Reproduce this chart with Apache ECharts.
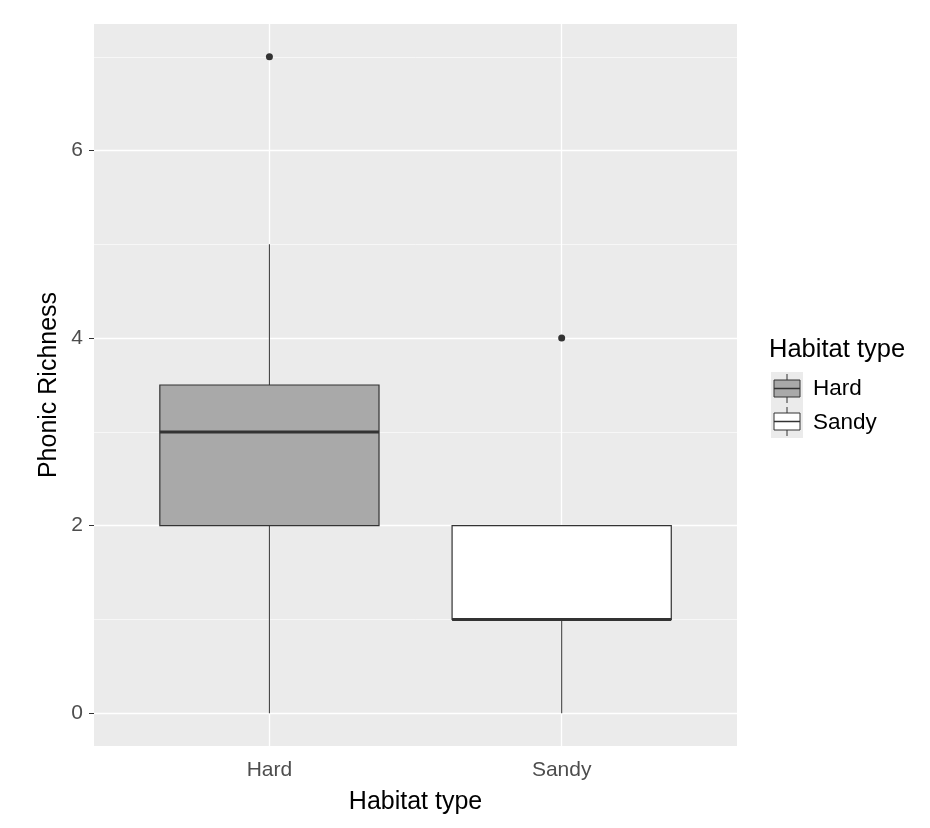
<!DOCTYPE html>
<html>
<head>
<meta charset="utf-8">
<script src="https://cdn.jsdelivr.net/npm/echarts@6/dist/echarts.min.js"></script>
<style>html,body{margin:0;padding:0;background:#fff}#c{width:930px;height:828px}</style>
</head>
<body>
<div id="c"></div>
<script>
// ---- data ----
const categories = ['Hard', 'Sandy'];
// [min, Q1, median, Q3, max] per category
const boxStats = [
  [0, 2, 3, 3.5, 5],
  [0, 1, 1, 2, 2]
];
const outliers = [['Hard', 7], ['Sandy', 4]];
const fills = ['#A9A9A9', '#FFFFFF'];
const yTicks = [0, 2, 4, 6];
const yMinor = [1, 3, 5, 7];
const yRange = [-0.35, 7.35];

const chart = echarts.init(document.getElementById('c'), null, {renderer: 'canvas'});
const FONT = 'Liberation Sans, Arial, sans-serif';

const customData = boxStats.map((s, i) => [i].concat(s));

const option = {
  animation: false,
  backgroundColor: '#FFFFFF',
  grid: [
    {left: 94, top: 24, width: 643, height: 722, show: true, backgroundColor: '#EBEBEB', borderWidth: 0, containLabel: false},
    {left: 123.3, top: 24, width: 584.5, height: 722, show: false, containLabel: false}
  ],
  xAxis: [
    {gridIndex: 0, type: 'value', min: 0, max: 1, show: false},
    {gridIndex: 1, type: 'category', data: categories, boundaryGap: true,
      axisLine: {show: false},
      axisTick: {show: true, alignWithLabel: true, length: 5, lineStyle: {color: '#333333', width: 1}},
      axisLabel: {color: '#4D4D4D', fontSize: 21, fontFamily: FONT, margin: 14},
      splitLine: {show: false},
      name: 'Habitat type', nameLocation: 'middle', nameGap: 44, nameMoveOverlap: false,
      nameTextStyle: {color: '#000', fontSize: 25, fontFamily: FONT}
    }
  ],
  yAxis: [
    {gridIndex: 0, type: 'value', min: yRange[0], max: yRange[1],
      axisLine: {show: false},
      axisTick: {show: true, length: 5, customValues: yTicks, lineStyle: {color: '#333333', width: 1}},
      axisLabel: {color: '#4D4D4D', fontSize: 21, fontFamily: FONT, margin: 11, customValues: yTicks},
      splitLine: {show: false},
      name: 'Phonic Richness', nameLocation: 'middle', nameGap: 32, nameRotate: 90, nameMoveOverlap: false,
      nameTextStyle: {color: '#000', fontSize: 25, fontFamily: FONT}
    },
    {gridIndex: 1, type: 'value', min: yRange[0], max: yRange[1], show: false, splitLine: {show: false}}
  ],
  series: [
    {
      type: 'scatter', xAxisIndex: 0, yAxisIndex: 0, data: [], z: 1, silent: true,
      markLine: {
        silent: true, symbol: ['none', 'none'], label: {show: false}, animation: false,
        emphasis: {disabled: true},
        data: yMinor.map(v => ({yAxis: v, lineStyle: {color: '#FFFFFF', width: 0.6, type: 'solid'}}))
          .concat(yTicks.map(v => ({yAxis: v, lineStyle: {color: '#FFFFFF', width: 1.3, type: 'solid'}})))
      }
    },
    {
      type: 'scatter', xAxisIndex: 1, yAxisIndex: 1, data: [], z: 1, silent: true,
      markLine: {
        silent: true, symbol: ['none', 'none'], label: {show: false}, animation: false,
        emphasis: {disabled: true},
        data: categories.map(c => ({xAxis: c, lineStyle: {color: '#FFFFFF', width: 1.3, type: 'solid'}}))
      }
    },
    {
      type: 'custom', xAxisIndex: 1, yAxisIndex: 1, z: 5, silent: true,
      data: customData,
      renderItem: function (params, api) {
        const i = api.value(0);
        const pMin = api.coord([i, api.value(1)]);
        const pQ1 = api.coord([i, api.value(2)]);
        const pMed = api.coord([i, api.value(3)]);
        const pQ3 = api.coord([i, api.value(4)]);
        const pMax = api.coord([i, api.value(5)]);
        const bw = api.size([1, 0])[0] * 0.75;
        const cx = pMed[0];
        const lineC = '#333333';
        return {
          type: 'group',
          children: [
            {type: 'line', shape: {x1: cx, y1: pMin[1], x2: cx, y2: pQ1[1]}, style: {stroke: '#444', lineWidth: 1.1}},
            {type: 'line', shape: {x1: cx, y1: pQ3[1], x2: cx, y2: pMax[1]}, style: {stroke: '#444', lineWidth: 1.1}},
            {type: 'rect', shape: {x: cx - bw / 2, y: pQ3[1], width: bw, height: pQ1[1] - pQ3[1]},
              style: {fill: fills[i], stroke: lineC, lineWidth: 1.2}},
            {type: 'line', shape: {x1: cx - bw / 2, y1: pMed[1], x2: cx + bw / 2, y2: pMed[1]}, style: {stroke: lineC, lineWidth: 3}}
          ]
        };
      }
    },
    {
      type: 'scatter', xAxisIndex: 1, yAxisIndex: 1, z: 6, silent: true,
      data: outliers, symbol: 'circle', symbolSize: 7, itemStyle: {color: '#333333', opacity: 1}
    }
  ],
  graphic: [
    {type: 'text', left: 769, top: 337, style: {text: 'Habitat type', fontSize: 25.5, fontFamily: FONT, fill: '#000'}},
    {type: 'rect', shape: {x: 771, y: 372, width: 32, height: 33}, style: {fill: '#EBEBEB'}},
    {type: 'rect', shape: {x: 771, y: 405, width: 32, height: 33}, style: {fill: '#EBEBEB'}},
    // Hard key
    {type: 'line', shape: {x1: 787, y1: 374, x2: 787, y2: 380}, style: {stroke: '#333', lineWidth: 1}},
    {type: 'line', shape: {x1: 787, y1: 397, x2: 787, y2: 403}, style: {stroke: '#333', lineWidth: 1}},
    {type: 'rect', shape: {x: 774, y: 380, width: 26, height: 17}, style: {fill: fills[0], stroke: '#333', lineWidth: 1}},
    {type: 'line', shape: {x1: 774, y1: 388.5, x2: 800, y2: 388.5}, style: {stroke: '#333', lineWidth: 1.5}},
    // Sandy key
    {type: 'line', shape: {x1: 787, y1: 407, x2: 787, y2: 413}, style: {stroke: '#333', lineWidth: 1}},
    {type: 'line', shape: {x1: 787, y1: 430, x2: 787, y2: 436}, style: {stroke: '#333', lineWidth: 1}},
    {type: 'rect', shape: {x: 774, y: 413, width: 26, height: 17}, style: {fill: fills[1], stroke: '#333', lineWidth: 1}},
    {type: 'line', shape: {x1: 774, y1: 421.5, x2: 800, y2: 421.5}, style: {stroke: '#333', lineWidth: 1.5}},
    {type: 'text', x: 813, y: 389, style: {text: 'Hard', fontSize: 22.5, fontFamily: FONT, fill: '#000', verticalAlign: 'middle'}},
    {type: 'text', x: 813, y: 423, style: {text: 'Sandy', fontSize: 22.5, fontFamily: FONT, fill: '#000', verticalAlign: 'middle'}}
  ]
};
chart.setOption(option);
</script>
</body>
</html>
